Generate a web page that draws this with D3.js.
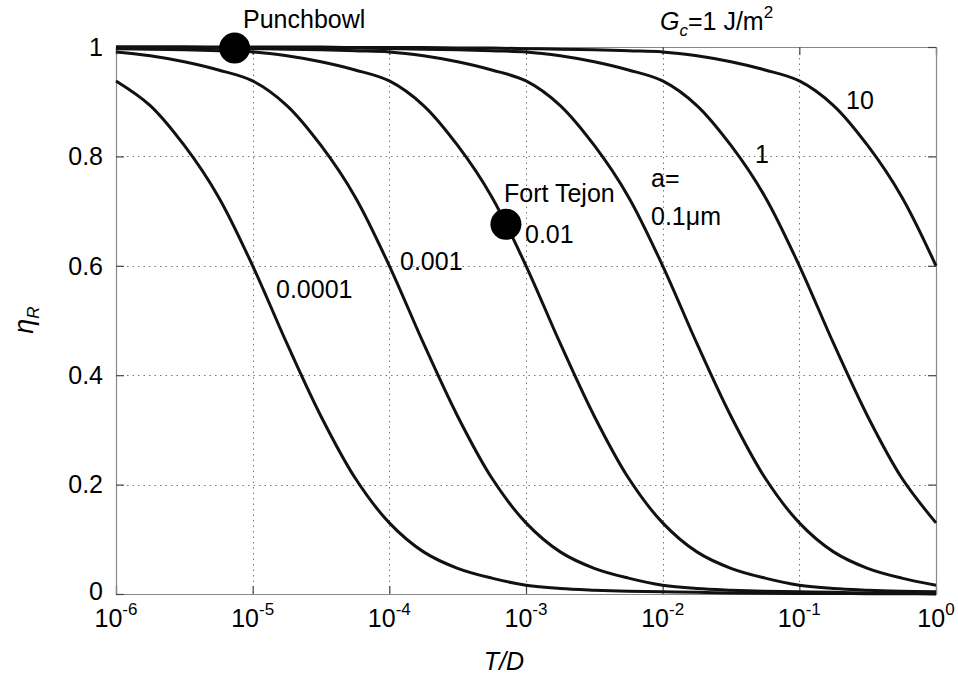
<!DOCTYPE html>
<html>
<head>
<meta charset="utf-8">
<script src="https://cdn.jsdelivr.net/npm/d3@7"></script>
<style>
  html, body { margin: 0; padding: 0; background: #fff; }
  svg { display: block; }
  text { font-family: "Liberation Sans", Arial, Helvetica, sans-serif; fill: #000; }
</style>
</head>
<body>
<svg id="chart" width="958" height="677"></svg>
<script>
// ---------------- data ----------------
// T/D sample grid (quarter decades from 1e-6 to 1)
const tdGrid = [1e-6, 1.78e-6, 3.16e-6, 5.62e-6,
                1e-5, 1.78e-5, 3.16e-5, 5.62e-5,
                1e-4, 1.78e-4, 3.16e-4, 5.62e-4,
                1e-3, 1.78e-3, 3.16e-3, 5.62e-3,
                1e-2, 1.78e-2, 3.16e-2, 5.62e-2,
                1e-1, 1.78e-1, 3.16e-1, 5.62e-1, 1];

const seriesNames = ["0.0001", "0.001", "0.01", "0.1", "1", "10"];

const etaA00001 = [0.938, 0.893, 0.820, 0.726, 0.600, 0.458, 0.325, 0.212, 0.130, 0.077, 0.047, 0.029, 0.016,
                   0.010, 0.007, 0.005, 0.004, 0.003, 0.002, 0.0015, 0.001, 0.001, 0.0005, 0.0005, 0.000];
const etaA0001  = [0.991, 0.984, 0.973, 0.958, 0.938, 0.893, 0.820, 0.726, 0.600, 0.458, 0.325, 0.212, 0.130,
                   0.077, 0.047, 0.029, 0.016, 0.010, 0.007, 0.005, 0.004, 0.003, 0.002, 0.0015, 0.001];
const etaA001   = [0.997, 0.996, 0.995, 0.993, 0.991, 0.984, 0.973, 0.958, 0.938, 0.893, 0.820, 0.726, 0.600,
                   0.458, 0.325, 0.212, 0.130, 0.077, 0.047, 0.029, 0.016, 0.010, 0.007, 0.005, 0.004];
const etaA01    = [0.999, 0.999, 0.998, 0.998, 0.997, 0.996, 0.995, 0.993, 0.991, 0.984, 0.973, 0.958, 0.938,
                   0.893, 0.820, 0.726, 0.600, 0.458, 0.325, 0.212, 0.130, 0.077, 0.047, 0.029, 0.016];
const etaA1     = [1.000, 1.000, 1.000, 0.999, 0.999, 0.999, 0.998, 0.998, 0.997, 0.996, 0.995, 0.993, 0.991,
                   0.984, 0.973, 0.958, 0.938, 0.893, 0.820, 0.726, 0.600, 0.458, 0.325, 0.212, 0.130];
const etaA10    = [1.000, 1.000, 1.000, 1.000, 1.000, 1.000, 1.000, 0.999, 0.999, 0.999, 0.998, 0.998, 0.997,
                   0.996, 0.995, 0.993, 0.991, 0.984, 0.973, 0.958, 0.938, 0.893, 0.820, 0.726, 0.600];

const siteNames = ["Punchbowl", "Fort Tejon"];
const siteTD    = [7.38e-6, 7.13e-4];
const siteEta   = [0.998, 0.676];

const xTickValues = [1e-6, 1e-5, 1e-4, 1e-3, 1e-2, 1e-1, 1];
const xTickExps   = ["-6", "-5", "-4", "-3", "-2", "-1", "0"];
const yTickValues = [0, 0.2, 0.4, 0.6, 0.8, 1];
const yTickLabels = ["0", "0.2", "0.4", "0.6", "0.8", "1"];

// ---------------- layout ----------------
const svg = d3.select("#chart");
const L = 116, R = 936, T = 47, B = 594;
const x = d3.scaleLog().domain([1e-6, 1]).range([L, R]);
const y = d3.scaleLinear().domain([0, 1]).range([B, T]);

// grid
const grid = svg.append("g").attr("stroke", "#777").attr("stroke-width", 1)
  .attr("stroke-dasharray", "1.5,4");
grid.selectAll(".gx").data(xTickValues.slice(1, -1)).join("line")
  .attr("x1", d => Math.round(x(d)) + 0.5).attr("x2", d => Math.round(x(d)) + 0.5)
  .attr("y1", T).attr("y2", B);
grid.selectAll(".gy").data(yTickValues.slice(1, -1)).join("line")
  .attr("y1", d => Math.round(y(d)) + 0.5).attr("y2", d => Math.round(y(d)) + 0.5)
  .attr("x1", L).attr("x2", R);

// axes (ticks inward)
const axB = d3.axisBottom(x).tickValues(xTickValues).tickSize(-8).tickFormat("");
const axT = d3.axisTop(x).tickValues(xTickValues).tickSize(-8).tickFormat("");
const axL = d3.axisLeft(y).tickValues(yTickValues).tickSize(-8).tickFormat("");
const axR = d3.axisRight(y).tickValues(yTickValues).tickSize(-8).tickFormat("");
function styleAxis(g) {
  g.select(".domain").attr("stroke", "#888").attr("stroke-width", 1.2);
  g.selectAll(".tick line").attr("stroke", "#444").attr("stroke-width", 1.2);
}
svg.append("g").attr("transform", `translate(0,${B})`).call(axB).call(styleAxis);
svg.append("g").attr("transform", `translate(0,${T})`).call(axT).call(styleAxis);
svg.append("g").attr("transform", `translate(${L},0)`).call(axL).call(styleAxis);
svg.append("g").attr("transform", `translate(${R},0)`).call(axR).call(styleAxis);

// tick labels
svg.append("g").selectAll("text").data(yTickValues).join("text")
  .attr("x", 103).attr("y", d => y(d)).attr("dy", d => d === 0 ? "0.25em" : "0.35em")
  .attr("text-anchor", "end").attr("font-size", 25)
  .text((d, i) => yTickLabels[i]);

const xl = svg.append("g").selectAll("text").data(xTickValues).join("text")
  .attr("x", d => x(d)).attr("y", 627)
  .attr("text-anchor", "middle").attr("font-size", 25);
xl.append("tspan").text("10");
xl.append("tspan").attr("font-size", 17).attr("dy", -12).text((d, i) => xTickExps[i]);

// axis titles
svg.append("text").attr("x", 504).attr("y", 670).attr("text-anchor", "middle")
  .attr("font-size", 25).attr("font-style", "italic").text("T/D");
const yt = svg.append("text").attr("transform", "translate(33,320) rotate(-90)")
  .attr("text-anchor", "middle").attr("font-size", 27);
yt.append("tspan").attr("font-style", "italic").text("η");
yt.append("tspan").attr("font-size", 17).attr("font-style", "italic").attr("dy", 6).text("R");

// curves
const allSeries = [etaA00001, etaA0001, etaA001, etaA01, etaA1, etaA10];
const line = d3.line().x((d, i) => x(tdGrid[i])).y(d => y(d)).curve(d3.curveCatmullRom.alpha(0.5));
svg.append("g").selectAll("path").data(allSeries).join("path")
  .attr("d", d => line(d)).attr("fill", "none")
  .attr("stroke", "#111").attr("stroke-width", 3).attr("stroke-linejoin", "round");

// site points
svg.append("g").selectAll("circle").data(siteTD).join("circle")
  .attr("cx", d => x(d)).attr("cy", (d, i) => y(siteEta[i])).attr("r", 15.5)
  .attr("fill", "#000");

// annotations
const ann = svg.append("g").attr("font-size", 25);
ann.append("text").attr("x", 243).attr("y", 28).text(siteNames[0]);
ann.append("text").attr("x", 504).attr("y", 202).text(siteNames[1]);
ann.append("text").attr("x", 276).attr("y", 298).text(seriesNames[0]);
ann.append("text").attr("x", 400).attr("y", 270).text(seriesNames[1]);
ann.append("text").attr("x", 525).attr("y", 243).text(seriesNames[2]);
ann.append("text").attr("x", 651).attr("y", 187).text("a=");
ann.append("text").attr("x", 651).attr("y", 225).text(seriesNames[3] + "μm");
ann.append("text").attr("x", 755).attr("y", 163).text(seriesNames[4]);
ann.append("text").attr("x", 846).attr("y", 109).text(seriesNames[5]);

const gc = ann.append("text").attr("x", 660).attr("y", 30);
gc.append("tspan").attr("font-style", "italic").text("G");
gc.append("tspan").attr("font-size", 17).attr("font-style", "italic").attr("dy", 6).text("c");
gc.append("tspan").attr("dy", -6).text("=1 J/m");
gc.append("tspan").attr("font-size", 17).attr("dy", -12).text("2");
</script>
</body>
</html>
